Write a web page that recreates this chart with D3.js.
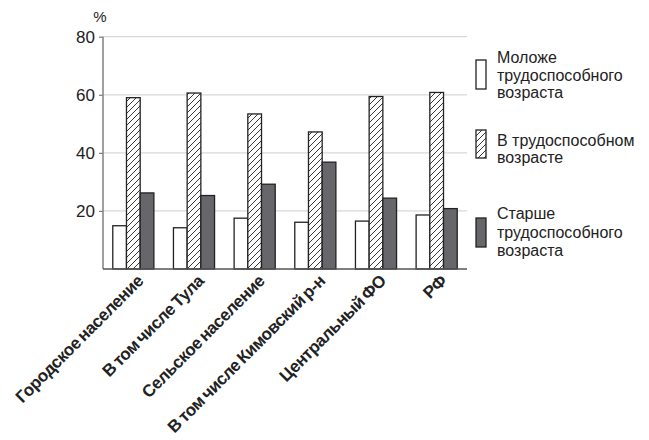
<!DOCTYPE html>
<html><head><meta charset="utf-8">
<script src="https://cdn.jsdelivr.net/npm/d3@7"></script>
<style>body{margin:0;background:#fff}svg{display:block}</style>
</head><body>
<script>
const categories = ["Городское население","В том числе Тула","Сельское население","В том числе Кимовский р-н","Центральный ФО","РФ"];
const seriesNames = [["Моложе","трудоспособного","возраста"],["В трудоспособном","возрасте"],["Старше","трудоспособного","возраста"]];
const young = [14.9, 14.2, 17.5, 16.1, 16.5, 18.6];
const working = [59.0, 60.6, 53.4, 47.2, 59.4, 60.8];
const old = [26.2, 25.3, 29.2, 36.8, 24.4, 20.8];
const yTicks = [20, 40, 60, 80];

const W = 649, H = 440;
const svg = d3.select("body").append("svg").attr("width", W).attr("height", H);
const defs = svg.append("defs");
const pat = defs.append("pattern").attr("id","hatch").attr("patternUnits","userSpaceOnUse")
  .attr("width",6).attr("height",6);
pat.append("rect").attr("width",6).attr("height",6).attr("fill","#fff");
pat.append("path").attr("d","M0,6 L6,0 M-1.5,1.5 L1.5,-1.5 M4.5,7.5 L7.5,4.5")
  .attr("stroke","#222").attr("stroke-width",0.9);

const fills = ["#fff","url(#hatch)","#67676b"];
const series = [young, working, old];

const x0 = 103, x1 = 467, yTop = 36.7, yBot = 269;
const x = d3.scaleBand().domain(categories).range([x0, x1]).paddingInner(0).paddingOuter(0);
const y = d3.scaleLinear().domain([0, 80]).range([yBot, yTop]);
const bw = 13.7;

// gridlines
svg.append("g").selectAll("line").data(yTicks).join("line")
  .attr("x1", x0).attr("x2", x1).attr("y1", d=>y(d)).attr("y2", d=>y(d))
  .attr("stroke","#d8d8d8").attr("stroke-width",1.2);

// y axis
const ya = svg.append("g").attr("transform",`translate(${x0},0)`)
  .call(d3.axisLeft(y).tickValues(yTicks).tickSize(4).tickPadding(4).tickSizeOuter(0));
ya.select(".domain").remove();
ya.selectAll(".tick line").attr("stroke","#777").attr("stroke-width",1.2);
ya.selectAll("text").attr("font-family","Liberation Sans, Arial, sans-serif").attr("font-size",17).attr("fill","#222");
svg.append("line").attr("x1",x0).attr("x2",x0).attr("y1",yTop).attr("y2",yBot)
  .attr("stroke","#888").attr("stroke-width",1.6);
svg.append("text").attr("x",100).attr("y",22).attr("text-anchor","middle")
  .attr("font-family","Liberation Sans, Arial, sans-serif").attr("font-size",15).attr("fill","#222").text("%");

// bars
categories.forEach((c,i)=>{
  const cx = x(c) + x.bandwidth()/2;
  series.forEach((s,j)=>{
    svg.append("rect").attr("x", cx - 1.5*bw + j*bw).attr("y", y(s[i]))
      .attr("width", bw).attr("height", y(0)-y(s[i]))
      .attr("fill", fills[j]).attr("stroke","#222").attr("stroke-width",1.3);
  });
});

// baseline
svg.append("line").attr("x1",x0).attr("x2",x1).attr("y1",yBot).attr("y2",yBot)
  .attr("stroke","#555").attr("stroke-width",1.4);

// x labels
svg.append("g").selectAll("text").data(categories).join("text")
  .attr("transform", d=>`translate(${x(d)+x.bandwidth()/2+11},${282}) rotate(-45)`)
  .attr("text-anchor","end")
  .attr("font-family","Liberation Sans, Arial, sans-serif").attr("font-weight","bold")
  .attr("font-size",17).attr("letter-spacing","-0.4").attr("word-spacing","-1.5").attr("fill","#222").text(d=>d);

// legend
const legY = [[60,89],[130,158],[218,247]];
const legText = [[57,75,92],[140,157],[213,232,250]];
seriesNames.forEach((lines,j)=>{
  svg.append("rect").attr("x",476).attr("y",legY[j][0]).attr("width",10).attr("height",legY[j][1]-legY[j][0])
    .attr("fill",fills[j]).attr("stroke","#222").attr("stroke-width",1.3);
  lines.forEach((t,k)=>{
    svg.append("text").attr("x",497).attr("y",legText[j][k]).attr("dy","0.35em")
      .attr("font-family","Liberation Sans, Arial, sans-serif").attr("font-size",16).attr("fill","#222").text(t);
  });
});
</script>
</body></html>
